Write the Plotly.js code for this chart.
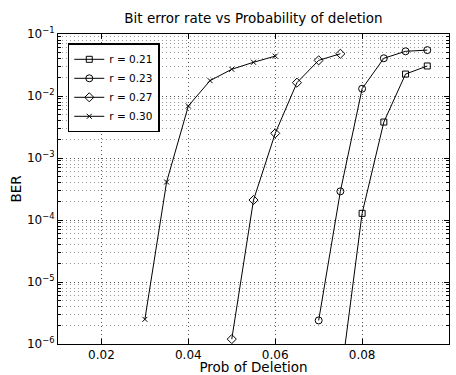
<!DOCTYPE html>
<html><head><meta charset="utf-8">
<script src="https://cdn.plot.ly/plotly-3.0.1.min.js"></script>
<style>html,body{margin:0;padding:0;background:#fff}#chart{width:456px;height:375px}</style>
</head><body><div id="chart"></div>
<script>
const seriesNames = ["r = 0.21", "r = 0.23", "r = 0.27", "r = 0.30"];
const x021 = [0.075, 0.080, 0.085, 0.090, 0.095];
const y021 = [2.5e-7, 1.28e-4, 3.8e-3, 2.26e-2, 3.05e-2];
const x023 = [0.070, 0.075, 0.080, 0.085, 0.090, 0.095];
const y023 = [2.4e-6, 2.9e-4, 1.31e-2, 4.06e-2, 5.26e-2, 5.5e-2];
const x027 = [0.050, 0.055, 0.060, 0.065, 0.070, 0.075];
const y027 = [1.2e-6, 2.1e-4, 2.5e-3, 1.64e-2, 3.76e-2, 4.8e-2];
const x030 = [0.030, 0.035, 0.040, 0.045, 0.050, 0.055, 0.060];
const y030 = [2.5e-6, 4.1e-4, 6.9e-3, 1.77e-2, 2.7e-2, 3.5e-2, 4.4e-2];
const xTicks = [0.02, 0.04, 0.06, 0.08, 0.1];
const xTickText = ["0.02", "0.04", "0.06", "0.08", "0.1"];
const yTicks = [1e-6, 1e-5, 1e-4, 1e-3, 1e-2, 1e-1];
const yTickText = ["10<sup>−6</sup>", "10<sup>−5</sup>", "10<sup>−4</sup>", "10<sup>−3</sup>", "10<sup>−2</sup>", "10<sup>−1</sup>"];

const minorY = [];
for (let e = -6; e < -1; e++) for (let m = 2; m <= 9; m++) minorY.push(m * Math.pow(10, e));

const xs = [x021, x023, x027, x030];
const ys = [y021, y023, y027, y030];
const symbols = ["square-open", "circle-open", "diamond-open", "x-thin-open"];
const sizes = [6, 7, 7, 5];
const traces = seriesNames.map((n, i) => ({
  x: xs[i], y: ys[i], name: n, type: "scatter", mode: "lines+markers",
  line: {color: "#000", width: 1},
  marker: {symbol: symbols[i], size: sizes[i], color: "#000", line: {color: "#000", width: 1}}
}));

const fam = "DejaVu Sans, sans-serif";
const layout = {
  width: 456, height: 375,
  margin: {l: 58, r: 7, t: 34, b: 31},
  paper_bgcolor: "#fff", plot_bgcolor: "#fff",
  font: {family: fam, color: "#000", size: 12},
  showlegend: true,
  title: {text: "Bit error rate vs Probability of deletion", font: {size: 13.5, family: fam, color: "#000"},
          xref: "paper", x: 0.5, xanchor: "center", y: 0.951, yanchor: "middle"},
  xaxis: {
    range: [0.01, 0.1], tickvals: xTicks, ticktext: xTickText,
    showline: true, linecolor: "#000", linewidth: 1, mirror: "ticks",
    ticks: "inside", ticklen: 5, tickcolor: "#000",
    showgrid: true, gridcolor: "#555", griddash: "1px,3px", gridwidth: 1,
    zeroline: false,
    title: {text: "Prob of Deletion", font: {size: 13.5, family: fam, color: "#000"}, standoff: 2},
    tickfont: {size: 12}
  },
  yaxis: {
    type: "log", range: [-6, -1], tickvals: yTicks, ticktext: yTickText,
    showline: true, linecolor: "#000", linewidth: 1, mirror: "ticks",
    ticks: "inside", ticklen: 5, tickcolor: "#000",
    showgrid: true, gridcolor: "#555", griddash: "1px,3px", gridwidth: 1,
    minor: {tickmode: "array", tickvals: minorY, ticks: "inside", ticklen: 3, tickcolor: "#000",
            showgrid: true, gridcolor: "#999", griddash: "1px,3px", gridwidth: 1},
    zeroline: false,
    title: {text: "BER", font: {size: 13.5, family: fam, color: "#000"}, standoff: 2},
    tickfont: {size: 12}
  },
  legend: {
    x: 0.025, y: 0.97, xanchor: "left", yanchor: "top",
    bgcolor: "#fff", bordercolor: "#000", borderwidth: 1.5,
    font: {size: 10.5, family: fam, color: "#000"},
    tracegroupgap: 0, itemwidth: 30
  }
};
Plotly.newPlot("chart", traces, layout, {displayModeBar: false, staticPlot: true});
</script></body></html>
